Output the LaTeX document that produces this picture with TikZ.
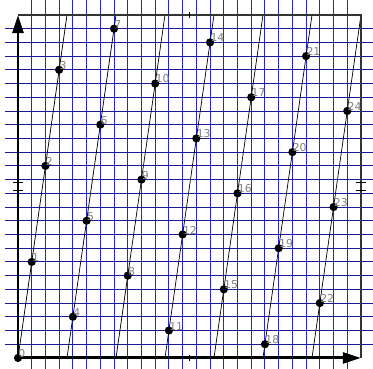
\documentclass[tikz,border=0pt]{standalone}
\usepackage{fontspec}
\setsansfont{DejaVu Sans}
\usepackage{tikz}
\usetikzlibrary{arrows.meta}
\definecolor{gittblau}{rgb}{0.1,0.1,0.6}
\definecolor{senkblau}{rgb}{0.15,0.15,0.8}
\definecolor{randgrau}{rgb}{0.2,0.2,0.2}
\tikzstyle{gitter} = [draw=gittblau, line width=0.8pt]
\tikzstyle{gittersenk} = [draw=senkblau, line width=0.8pt]
\tikzstyle{gerade} = [draw=black, line width=0.6pt]
\tikzstyle{achse} = [line width=2.4pt, -{Triangle[length=15pt, width=9pt]}]
\tikzstyle{rand} = [draw=randgrau, line width=1.7pt]
\tikzstyle{strich} = [draw=black, line width=1.3pt]
\tikzstyle{punkt} = [circle, fill=black, inner sep=0pt, minimum size=2.4mm]
\tikzstyle{zahl} = [text=gray, font=\sffamily\fontsize{9}{9}\selectfont, inner sep=0pt, label distance=-3.4pt]

\begin{document}
\begin{tikzpicture}[x=0.4cm, y=0.4cm]
    	\useasboundingbox (-1.312,-0.80) rectangle (25.875,26.09);

    	% gitter
    	\draw[gittersenk, xstep=1, ystep=100] (0.5,-0.8) grid (24.5,26.09);
    	\draw[gitter, xstep=100, ystep=1] (-0.95,0.5) grid (25.875,24.5);

    	% enden der geraden
    	\coordinate (b0) at (0,0);
    	\coordinate (b1) at (3.5714,0);
    	\coordinate (b2) at (7.1429,0);
    	\coordinate (b3) at (10.7143,0);
    	\coordinate (b4) at (14.2857,0);
    	\coordinate (b5) at (17.8571,0);
    	\coordinate (b6) at (21.4286,0);
    	\coordinate (t1) at (3.5714,25);
    	\coordinate (t2) at (7.1429,25);
    	\coordinate (t3) at (10.7143,25);
    	\coordinate (t4) at (14.2857,25);
    	\coordinate (t5) at (17.8571,25);
    	\coordinate (t6) at (21.4286,25);
    	\coordinate (t7) at (25,25);

    	\draw[gerade] (b0) -- (t1);
    	\draw[gerade] (b1) -- (t2);
    	\draw[gerade] (b2) -- (t3);
    	\draw[gerade] (b3) -- (t4);
    	\draw[gerade] (b4) -- (t5);
    	\draw[gerade] (b5) -- (t6);
    	\draw[gerade] (b6) -- (t7);

    	% rand
    	\coordinate (o) at (0,0);
    	\coordinate (ol) at (0,25);
    	\coordinate (ur) at (25,0);
    	\draw[rand] (ol) -- (t7) -- (ur);
    	\draw[achse] (o) -- (ol);
    	\draw[achse] (o) -- (ur);

    	% markierungen
    	\draw[strich] (12.5,24.75) -- (12.5,25.25);
    	\draw[strich] (12.5,-0.25) -- (12.5,0.25);
    	\draw[strich] (-0.33,12.2) -- (0.33,12.2);
    	\draw[strich] (-0.33,12.8) -- (0.33,12.8);
    	\draw[strich] (24.67,12.2) -- (25.33,12.2);
    	\draw[strich] (24.67,12.8) -- (25.33,12.8);

    	% punkte
    	\node[punkt, label={[zahl]above right:0}] (p0) at (0,0) {};
    	\node[punkt, label={[zahl]above right:1}] (p1) at (1,7) {};
    	\node[punkt, label={[zahl]above right:2}] (p2) at (2,14) {};
    	\node[punkt, label={[zahl]above right:3}] (p3) at (3,21) {};
    	\node[punkt, label={[zahl]above right:4}] (p4) at (4,3) {};
    	\node[punkt, label={[zahl]above right:5}] (p5) at (5,10) {};
    	\node[punkt, label={[zahl]above right:6}] (p6) at (6,17) {};
    	\node[punkt, label={[zahl]above right:7}] (p7) at (7,24) {};
    	\node[punkt, label={[zahl]above right:8}] (p8) at (8,6) {};
    	\node[punkt, label={[zahl]above right:9}] (p9) at (9,13) {};
    	\node[punkt, label={[zahl]above right:10}] (p10) at (10,20) {};
    	\node[punkt, label={[zahl]above right:11}] (p11) at (11,2) {};
    	\node[punkt, label={[zahl]above right:12}] (p12) at (12,9) {};
    	\node[punkt, label={[zahl]above right:13}] (p13) at (13,16) {};
    	\node[punkt, label={[zahl]above right:14}] (p14) at (14,23) {};
    	\node[punkt, label={[zahl]above right:15}] (p15) at (15,5) {};
    	\node[punkt, label={[zahl]above right:16}] (p16) at (16,12) {};
    	\node[punkt, label={[zahl]above right:17}] (p17) at (17,19) {};
    	\node[punkt, label={[zahl]above right:18}] (p18) at (18,1) {};
    	\node[punkt, label={[zahl]above right:19}] (p19) at (19,8) {};
    	\node[punkt, label={[zahl]above right:20}] (p20) at (20,15) {};
    	\node[punkt, label={[zahl]above right:21}] (p21) at (21,22) {};
    	\node[punkt, label={[zahl]above right:22}] (p22) at (22,4) {};
    	\node[punkt, label={[zahl]above right:23}] (p23) at (23,11) {};
    	\node[punkt, label={[zahl]above right:24}] (p24) at (24,18) {};

    \end{tikzpicture}
\end{document}
